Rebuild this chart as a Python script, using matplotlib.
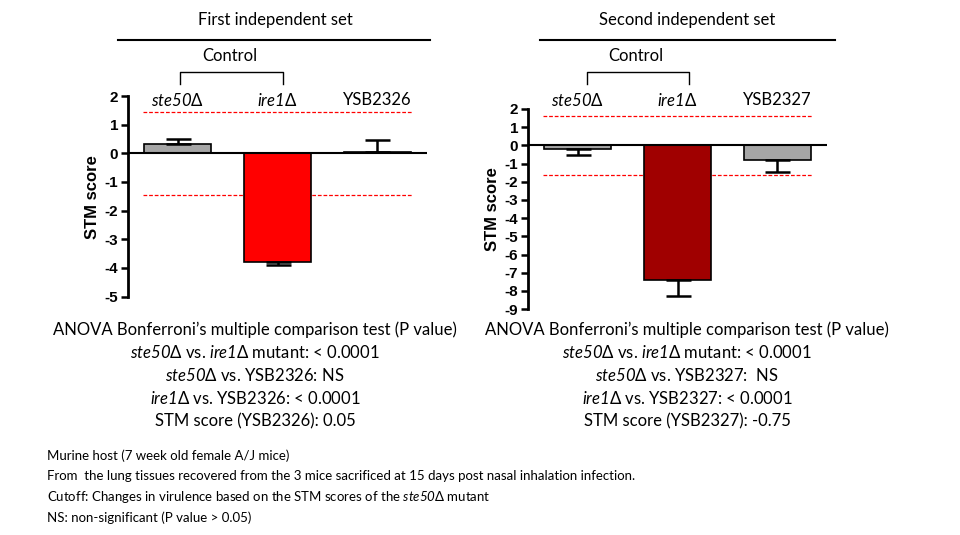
import matplotlib
matplotlib.use("Agg")
import matplotlib.pyplot as plt

plt.rcParams['font.family'] = ['Lato', 'DejaVu Sans']
plt.rcParams['mathtext.fontset'] = 'custom'
plt.rcParams['mathtext.rm'] = 'Lato'
plt.rcParams['mathtext.it'] = 'Lato:italic'
plt.rcParams['mathtext.bf'] = 'Lato:italic'

cats1 = ["$\\mathbf{ste50}$Δ", "$\\mathbf{ire1}$Δ", "YSB2326"]
vals1 = [0.32, -3.8, 0.05]
err1 = [0.18, 0.1, 0.42]
cols1 = ["#a6a6a6", "#ff0000", "#a6a6a6"]
cut1 = 1.45

cats2 = ["$\\mathbf{ste50}$Δ", "$\\mathbf{ire1}$Δ", "YSB2327"]
vals2 = [-0.18, -7.4, -0.8]
err2 = [0.37, 0.9, 0.65]
cols2 = ["#a6a6a6", "#a00000", "#a6a6a6"]
cut2 = 1.62

stats1 = ["ANOVA Bonferroni’s multiple comparison test (P value)",
          "$\\mathbf{ste50}$Δ vs. $\\mathbf{ire1}$Δ mutant: < 0.0001",
          "$\\mathbf{ste50}$Δ vs. YSB2326: NS",
          "$\\mathbf{ire1}$Δ vs. YSB2326: < 0.0001",
          "STM score (YSB2326): 0.05"]
stats2 = ["ANOVA Bonferroni’s multiple comparison test (P value)",
          "$\\mathbf{ste50}$Δ vs. $\\mathbf{ire1}$Δ mutant: < 0.0001",
          "$\\mathbf{ste50}$Δ vs. YSB2327:  NS",
          "$\\mathbf{ire1}$Δ vs. YSB2327: < 0.0001",
          "STM score (YSB2327): -0.75"]
notes = ["Murine host (7 week old female A/J mice)",
         "From  the lung tissues recovered from the 3 mice sacrificed at 15 days post nasal inhalation infection.",
         "Cutoff: Changes in virulence based on the STM scores of the $\\mathbf{ste50}$Δ mutant",
         "NS: non-significant (P value > 0.05)"]

W, H = 960, 535
fig = plt.figure(figsize=(9.6, 5.35), dpi=100)

def ax_at(x0, x1, ytop, ybot):
    return fig.add_axes([x0 / W, 1 - ybot / H, (x1 - x0) / W, (ybot - ytop) / H])

def panel(ax, cats, vals, err, cols, cut, ylim, ticks):
    x = list(range(len(cats)))
    for i in x:
        if vals[i] >= 0:
            ye = [[0], [err[i]]]
        else:
            ye = [[err[i]], [0]]
        ax.errorbar(i, vals[i], yerr=ye, fmt='none', ecolor='black', elinewidth=1.8,
                    capsize=9, capthick=1.8, zorder=3)
    ax.bar(x, vals, width=0.67, color=cols, edgecolor='black', linewidth=1.2, zorder=2)
    ax.axhline(0, color='black', lw=1.5, zorder=4)
    ax.hlines([cut, -cut], -0.35, 2.35, colors='red', linestyles=(0, (3, 1.5)), lw=0.9, zorder=1)
    ax.set_xlim(-0.5, 2.5)
    ax.set_ylim(*ylim)
    ax.set_yticks(ticks)
    ax.set_yticklabels([str(t) for t in ticks], fontfamily='Liberation Sans', fontweight='bold', fontsize=11)
    ax.tick_params(axis='y', width=1.8, length=5, pad=2)
    ax.set_xticks([])
    for s in ['top', 'right', 'bottom']:
        ax.spines[s].set_visible(False)
    ax.spines['left'].set_linewidth(2)
    ax.spines['left'].set_bounds(ylim[0] + 0.05, ylim[1])
    ax.set_ylabel("STM score", fontfamily='Liberation Sans', fontweight='bold', fontsize=12, labelpad=3)

ax1 = ax_at(128, 427, 96, 298)
panel(ax1, cats1, vals1, err1, cols1, cut1, (-5.05, 2.0), list(range(2, -6, -1)))
ax2 = ax_at(528, 827, 109, 310)
panel(ax2, cats2, vals2, err2, cols2, cut2, (-9.05, 2.0), list(range(2, -10, -1)))

def ft(x, y, s, **kw):
    fig.text(x / W, 1 - y / H, s, **kw)

def line(xs, ys, lw=1.3):
    fig.add_artist(plt.Line2D([v / W for v in xs], [1 - v / H for v in ys], color='black', lw=lw))

ft(275, 20, "First independent set", ha='center', va='center', fontsize=12)
line([118, 430], [40, 40], 1.5)
ft(687, 20, "Second independent set", ha='center', va='center', fontsize=12)
line([540, 835], [40, 40], 1.5)

for cx, lx, rx in [(230, 180, 283), (636, 587, 689)]:
    ft(cx, 56, "Control", ha='center', va='center', fontsize=12)
    line([lx, lx, rx, rx], [84, 72, 72, 84], 1.0)

for xs, cats in [([177, 277, 377], cats1), ([577, 677, 777], cats2)]:
    for xx, c in zip(xs, cats):
        ft(xx, 100, c, ha='center', va='center', fontsize=12)

for cx, st in [(255, stats1), (687, stats2)]:
    for k, s in enumerate(st):
        ft(cx, 330 + 22.8 * k, s, ha='center', va='center', fontsize=12)

for k, s in enumerate(notes):
    ft(47, 456 + 20.5 * k, s, ha='left', va='center', fontsize=9.5)

fig.savefig("out.png", dpi=100, facecolor='white')
